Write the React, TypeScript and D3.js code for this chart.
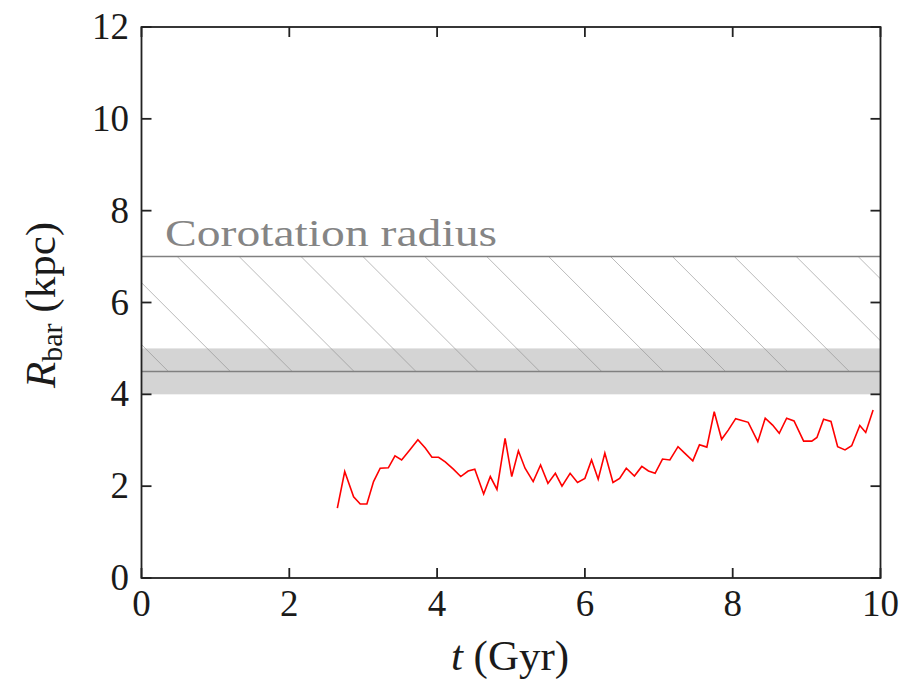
import React from "react";
import * as d3 from "d3";

const tValues = [
  2.65, 2.75, 2.87, 2.96, 3.05, 3.14, 3.23, 3.34, 3.43, 3.52, 3.63, 3.74, 3.84, 3.93, 4.02,
  4.11, 4.22, 4.32, 4.42, 4.51, 4.63, 4.72, 4.81, 4.92, 5.01, 5.10, 5.19, 5.30, 5.40, 5.50,
  5.60, 5.69, 5.80, 5.90, 6.00, 6.09, 6.18, 6.27, 6.38, 6.47, 6.56, 6.67, 6.77, 6.86, 6.95,
  7.05, 7.15, 7.26, 7.35, 7.46, 7.55, 7.65, 7.75, 7.85, 7.94, 8.04, 8.21, 8.34, 8.44, 8.54,
  8.63, 8.73, 8.83, 8.96, 9.07, 9.14, 9.23, 9.33, 9.42, 9.52, 9.61, 9.72, 9.80, 9.90,
];
const rBar = [
  1.52, 2.32, 1.77, 1.61, 1.61, 2.10, 2.39, 2.40, 2.66, 2.57, 2.79, 3.01, 2.83, 2.63, 2.63,
  2.53, 2.37, 2.21, 2.33, 2.37, 1.83, 2.21, 1.93, 3.04, 2.21, 2.77, 2.39, 2.10, 2.46, 2.06,
  2.28, 2.00, 2.28, 2.08, 2.17, 2.57, 2.15, 2.72, 2.08, 2.17, 2.39, 2.22, 2.43, 2.33, 2.28,
  2.59, 2.57, 2.86, 2.72, 2.55, 2.90, 2.85, 3.62, 3.02, 3.22, 3.47, 3.39, 2.97, 3.48, 3.33,
  3.15, 3.48, 3.42, 2.98, 2.98, 3.06, 3.46, 3.41, 2.86, 2.79, 2.88, 3.32, 3.17, 3.66,
];
const xTicks = [0, 2, 4, 6, 8, 10];
const yTicks = [0, 2, 4, 6, 8, 10, 12];
const corotationLine = 7;
const barLine = 4.5;
const barBand = [4, 5];
const corotationLabel = "Corotation radius";

const W = 916;
const H = 681;
const L = 141.5;
const R = 880.5;
const T = 27;
const B = 578;
const FONT = "'Liberation Serif', 'Times New Roman', serif";

export default function App() {
  const x = d3.scaleLinear().domain([0, 10]).range([L, R]);
  const y = d3.scaleLinear().domain([0, 12]).range([B, T]);
  const line = d3
    .line<number>()
    .x((_, i) => x(tValues[i]))
    .y((d) => y(d));

  // hatch lines (45°, "\\" style) in pixel space
  const hatchTop = y(corotationLine);
  const hatchBot = y(barLine);
  const spacing = 61.9;
  const c0 = -79.3;
  const hatch: [number, number, number, number][] = [];
  for (let k = -20; k < 30; k++) {
    const c = c0 + k * spacing; // x - y = c
    const x1 = hatchTop + c;
    const x2 = hatchBot + c;
    if (x2 < L - 5 || x1 > R + 5) continue;
    hatch.push([x1, hatchTop, x2, hatchBot]);
  }

  const tickLen = 10;

  return (
    <svg
      width={W}
      height={H}
      style={{ position: "absolute", left: 0, top: 0, background: "#fff" }}
      fontFamily={FONT}
    >
      <defs>
        <clipPath id="hclip">
          <rect x={L} y={hatchTop} width={R - L} height={hatchBot - hatchTop} />
        </clipPath>
        <clipPath id="plotclip">
          <rect x={L} y={T} width={R - L} height={B - T} />
        </clipPath>
      </defs>

      {/* grey band */}
      <rect
        x={L}
        y={y(barBand[1])}
        width={R - L}
        height={y(barBand[0]) - y(barBand[1])}
        fill="#d4d4d4"
      />
      {/* hatch */}
      <g clipPath="url(#hclip)">
        {hatch.map((h, i) => (
          <line
            key={i}
            x1={h[0]}
            y1={h[1]}
            x2={h[2]}
            y2={h[3]}
            stroke="#8c8c8c"
            strokeOpacity={0.6}
            strokeWidth={1}
          />
        ))}
      </g>
      {/* horizontal lines */}
      <line x1={L} x2={R} y1={y(corotationLine)} y2={y(corotationLine)} stroke="#808080" strokeWidth={1.5} />
      <line x1={L} x2={R} y1={y(barLine)} y2={y(barLine)} stroke="#808080" strokeWidth={1.5} />

      <text
        x={165}
        y={246}
        fontSize={38}
        fill="#858585"
        textLength={332}
        lengthAdjust="spacingAndGlyphs"
      >
        {corotationLabel}
      </text>

      {/* red line */}
      <path d={line(rBar) || ""} fill="none" stroke="#ff0000" strokeWidth={1.6} clipPath="url(#plotclip)" />

      {/* frame */}
      <rect x={L} y={T} width={R - L} height={B - T} fill="none" stroke="#222" strokeWidth={1.8} />

      {/* ticks */}
      {xTicks.map((t) => (
        <g key={"x" + t}>
          <line x1={x(t)} x2={x(t)} y1={B} y2={B - tickLen} stroke="#222" strokeWidth={1.8} />
          <line x1={x(t)} x2={x(t)} y1={T} y2={T + tickLen} stroke="#222" strokeWidth={1.8} />
          <text x={x(t)} y={616} fontSize={37} textAnchor="middle" fill="#1a1a1a">
            {t}
          </text>
        </g>
      ))}
      {yTicks.map((v) => (
        <g key={"y" + v}>
          <line x1={L} x2={L + tickLen} y1={y(v)} y2={y(v)} stroke="#222" strokeWidth={1.8} />
          <line x1={R} x2={R - tickLen} y1={y(v)} y2={y(v)} stroke="#222" strokeWidth={1.8} />
          <text x={129} y={y(v) + 12} fontSize={37} textAnchor="end" fill="#1a1a1a">
            {v}
          </text>
        </g>
      ))}

      {/* x label */}
      <text x={510} y={670} fontSize={43} textAnchor="middle" fill="#1a1a1a">
        <tspan fontStyle="italic">t</tspan>
        <tspan> (Gyr)</tspan>
      </text>

      {/* y label */}
      <text
        transform={`translate(55,${305}) rotate(-90)`}
        fontSize={43}
        textAnchor="middle"
        fill="#1a1a1a"
      >
        <tspan fontStyle="italic">R</tspan>
        <tspan fontSize={30} dy={7}>bar</tspan>
        <tspan dy={-7}> (kpc)</tspan>
      </text>
    </svg>
  );
}
